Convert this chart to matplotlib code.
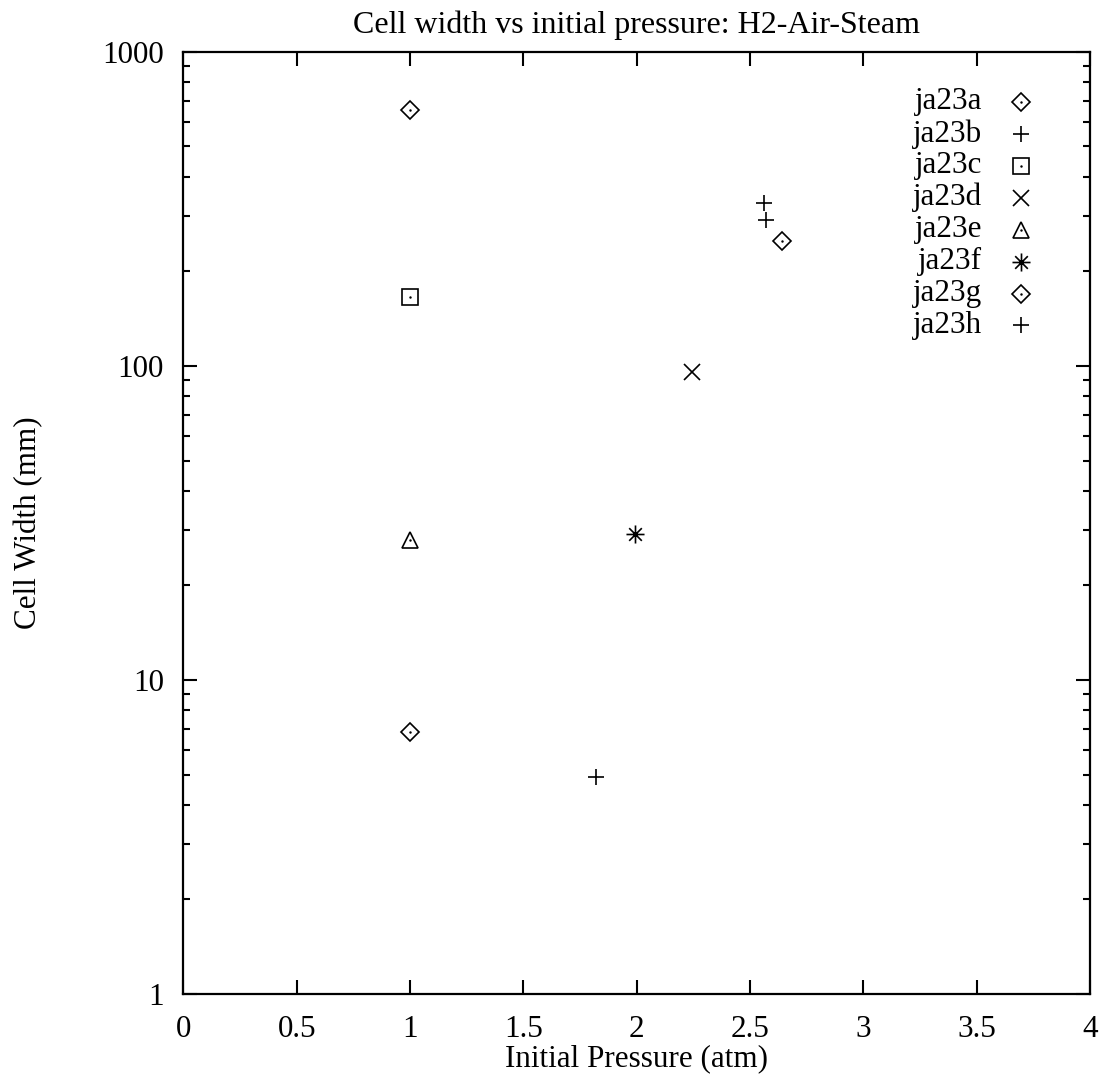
import matplotlib
matplotlib.use('Agg')
import matplotlib.pyplot as plt
from matplotlib.path import Path
import numpy as np

plt.rcParams['font.family'] = ['Liberation Serif', 'DejaVu Serif']
plt.rcParams['font.size'] = 22.4

# 측정 데이터 (series 이름, x = 초기 압력 atm, y = cell width mm)
names = ['ja23a', 'ja23b', 'ja23c', 'ja23d', 'ja23e', 'ja23f', 'ja23g', 'ja23h']
pressure = [
    [1.0, 2.64],
    [2.56, 2.57],
    [1.0],
    [2.245],
    [1.0],
    [1.993],
    [1.0],
    [1.82],
]
cell_width = [
    [654.0, 250.0],
    [330.0, 292.0],
    [166.0],
    [96.0],
    [28.0],
    [29.1],
    [6.82],
    [4.9],
]

# gnuplot 스타일 포인트 (별표는 + 와 x 를 겹친 모양)
star = Path([(-1, 0), (1, 0), (0, -1), (0, 1), (-0.7, -0.7), (0.7, 0.7), (-0.7, 0.7), (0.7, -0.7)],
            [Path.MOVETO, Path.LINETO] * 4)
styles = [
    dict(marker='D', ms=9.5),
    dict(marker='+', ms=11),
    dict(marker='s', ms=11),
    dict(marker='x', ms=11),
    dict(marker='^', ms=12),
    dict(marker=star, ms=13),
    dict(marker='D', ms=9.5),
    dict(marker='+', ms=11),
]
center_dot = {'D', 's', '^'}


def draw_point(x, y, st, **kw):
    ax.plot(x, y, ls='none', marker=st['marker'], ms=st['ms'],
            mfc='none', mec='black', mew=1.2, **kw)
    if isinstance(st['marker'], str) and st['marker'] in center_dot:
        ax.plot(x, y, ls='none', marker='.', ms=1.5, color='black', **kw)


fig = plt.figure(figsize=(11.02, 10.78), dpi=100)
ax = fig.add_axes([0.1665, 0.0779, 0.8225, 0.8739])

for i, name in enumerate(names):
    draw_point(pressure[i], cell_width[i], styles[i])

    # 범례: 텍스트 오른쪽 정렬, 마커는 오른쪽
    ly = 0.947 - i * 0.0339
    ax.text(0.881, ly, name, transform=ax.transAxes, ha='right', va='center')
    draw_point([0.924], [ly], styles[i], transform=ax.transAxes, clip_on=False)

ax.set_xlim(0, 4)
ax.set_yscale('log')
ax.set_ylim(1, 1000)
ax.set_xticks(np.arange(0, 4.01, 0.5))
ax.set_xticklabels(['0', '0.5', '1', '1.5', '2', '2.5', '3', '3.5', '4'])
ax.set_yticks([1, 10, 100, 1000])
ax.set_yticklabels(['1', '10', '100', '1000'])
ax.yaxis.set_minor_locator(matplotlib.ticker.LogLocator(base=10, subs=np.arange(2, 10)))
ax.yaxis.set_minor_formatter(matplotlib.ticker.NullFormatter())

ax.tick_params(which='both', direction='in', top=True, right=True, width=1.5)
ax.tick_params(which='major', length=10)
ax.tick_params(which='minor', length=5)
ax.tick_params(axis='x', pad=15)
ax.tick_params(axis='y', pad=14)
for sp in ax.spines.values():
    sp.set_linewidth(1.6)

ax.set_title('Cell width vs initial pressure: H2-Air-Steam', fontsize=23, pad=14)
ax.set_xlabel('Initial Pressure (atm)', labelpad=0)
ax.set_ylabel('Cell Width (mm)')
ax.yaxis.set_label_coords(-0.155, 0.5)

fig.savefig('out.png', dpi=100)
